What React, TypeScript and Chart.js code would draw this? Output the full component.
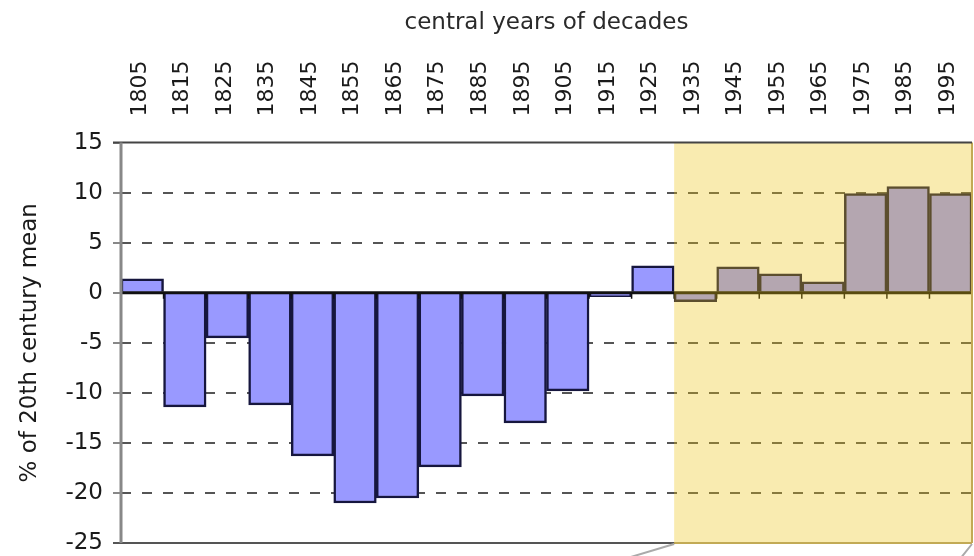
import React, { useEffect, useRef } from 'react';
import { Chart, registerables } from 'chart.js';

Chart.register(...registerables);

const decades = ['1805', '1815', '1825', '1835', '1845', '1855', '1865', '1875', '1885', '1895', '1905', '1915', '1925', '1935', '1945', '1955', '1965', '1975', '1985', '1995'];
const values = [1.4, -11.4, -4.5, -11.2, -16.3, -21.0, -20.5, -17.4, -10.3, -13.0, -9.8, -0.4, 2.7, -0.9, 2.6, 1.9, 1.1, 9.9, 10.6, 9.9];
const highlightFrom = '1935';
const yMin = -25;
const yMax = 15;
const yStep = 5;
const xTitle = 'central years of decades';
const yTitle = '% of 20th century mean';

const FONT = "'DejaVu Sans', sans-serif";

const framePlugin = {
  id: 'framePlugin',
  afterDatasetsDraw(chart: any) {
    const { ctx, chartArea: a, scales } = chart;
    const x = scales.x;
    const y = scales.y;
    const y0 = y.getPixelForValue(0);
    const half = (x.getPixelForValue(1) - x.getPixelForValue(0)) / 2;
    const idx = decades.indexOf(highlightFrom);
    const hx = x.getPixelForValue(idx) - half;
    const line = (x1: number, y1: number, x2: number, y2: number) => {
      ctx.beginPath();
      ctx.moveTo(x1, y1);
      ctx.lineTo(x2, y2);
      ctx.stroke();
    };
    ctx.save();
    // category axis at zero
    ctx.strokeStyle = '#111';
    ctx.lineWidth = 3;
    line(a.left, y0, a.right, y0);
    ctx.lineWidth = 1.5;
    for (let i = 1; i < decades.length; i++) {
      const bx = x.getPixelForValue(i) - half;
      line(bx, y0, bx, y0 + 6);
    }
    // bottom frame (left part)
    ctx.strokeStyle = '#555';
    ctx.lineWidth = 2;
    line(a.left - 8, a.bottom, a.right, a.bottom);
    // highlight overlay
    ctx.fillStyle = 'rgba(237,195,15,0.33)';
    ctx.fillRect(hx, a.top, a.right - hx, a.bottom - a.top);
    ctx.strokeStyle = '#c2aa55';
    ctx.lineWidth = 2;
    line(hx, a.bottom, a.right, a.bottom);
    line(a.right, a.top, a.right, a.bottom);
    // top frame
    ctx.strokeStyle = '#444';
    ctx.lineWidth = 2;
    line(a.left - 8, a.top, a.right, a.top);
    // left axis line
    ctx.strokeStyle = '#888';
    ctx.lineWidth = 3;
    line(a.left, a.top, a.left, a.bottom);
    ctx.restore();
  },
  afterDraw(chart: any) {
    const { ctx, chartArea: a, scales } = chart;
    const x = scales.x;
    const half = (x.getPixelForValue(1) - x.getPixelForValue(0)) / 2;
    const hx = x.getPixelForValue(decades.indexOf(highlightFrom)) - half;
    ctx.save();
    ctx.strokeStyle = '#aaa';
    ctx.lineWidth = 2;
    ctx.beginPath();
    ctx.moveTo(hx, a.bottom + 1);
    ctx.lineTo(hx - 50, a.bottom + 16);
    ctx.moveTo(a.right, a.bottom + 1);
    ctx.lineTo(a.right - 12, a.bottom + 16);
    ctx.stroke();
    ctx.restore();
  },
};

export default function App() {
  const ref = useRef<HTMLCanvasElement | null>(null);
  useEffect(() => {
    document.body.style.margin = '0';
    const canvas = ref.current;
    if (!canvas) return;
    const chart = new Chart(canvas, {
      type: 'bar',
      data: {
        labels: decades,
        datasets: [
          {
            data: values,
            backgroundColor: '#9999ff',
            borderColor: '#16163e',
            borderWidth: 2.5,
            barPercentage: 1,
            categoryPercentage: 1,
          },
        ],
      },
      options: {
        responsive: false,
        animation: false,
        devicePixelRatio: 1,
        layout: { padding: { left: 0, right: 2, top: 0, bottom: 13 } },
        plugins: {
          legend: { display: false },
          tooltip: { enabled: false },
          title: {
            display: true,
            text: xTitle,
            fullSize: false,
            color: '#2a2a2a',
            font: { family: FONT, size: 23, weight: 'normal' },
            padding: { top: 9, bottom: 2 },
          },
        },
        scales: {
          x: {
            position: 'top',
            grid: { display: false, drawTicks: false },
            border: { display: false },
            ticks: {
              autoSkip: false,
              minRotation: 90,
              maxRotation: 90,
              padding: 26,
              labelOffset: 24,
              color: '#1a1a1a',
              font: { family: FONT, size: 22 },
            },
            afterFit(scale: any) {
              scale.height = 104;
              scale.paddingLeft = 0;
              scale.paddingRight = 0;
            },
          },
          y: {
            min: yMin,
            max: yMax,
            ticks: {
              stepSize: yStep,
              padding: 10,
              color: '#1a1a1a',
              font: { family: FONT, size: 23 },
            },
            grid: {
              color: (c: any) => {
                const v = c.tick ? c.tick.value : null;
                return v === yMin || v === yMax || v === 0 ? 'rgba(0,0,0,0)' : '#555';
              },
              lineWidth: 2,
              tickColor: '#888',
              tickLength: 8,
              tickWidth: 2,
            },
            border: { display: false, dash: [10, 11] },
            title: {
              display: true,
              text: yTitle,
              color: '#1a1a1a',
              font: { family: FONT, size: 23 },
              padding: { top: 16, bottom: 0 },
            },
            afterFit(scale: any) {
              scale.width = 121;
              scale.paddingTop = 0;
              scale.paddingBottom = 0;
            },
          },
        },
      },
      plugins: [framePlugin],
    } as any);
    return () => chart.destroy();
  }, []);
  return (
    <div style={{ width: 974, height: 556, background: '#fff' }}>
      <canvas ref={ref} width={974} height={556} style={{ display: 'block' }} />
    </div>
  );
}
